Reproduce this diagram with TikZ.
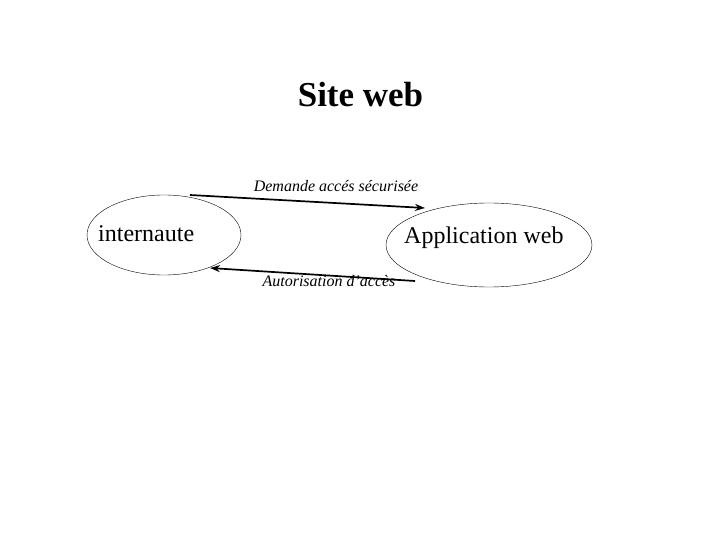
\documentclass[tikz,border=0pt]{standalone}
\usepackage{fontspec}
\setmainfont{Liberation Serif}
\usetikzlibrary{arrows.meta}
\begin{document}
\begin{tikzpicture}[x=1pt,y=-1pt,
  ell/.style={draw,ellipse,thin,inner sep=0pt},
  lbl/.style={font=\fontsize{24}{28}\selectfont,inner sep=0pt,anchor=base west},
  msg/.style={draw,line width=1.7pt,-{Stealth[length=10pt,width=7pt]}},
  msglbl/.style={font=\fontsize{16}{18}\itshape\selectfont,inner sep=0pt}]
\useasboundingbox (0,0) rectangle (720,540);
\node[font=\fontsize{35}{40}\bfseries\selectfont,inner sep=0pt] (title) at (360.5,95) {Site web};
\draw[thin] (164,235) ellipse [x radius=77, y radius=40];
\node[lbl] (int) at (98,241.5) {internaute};
\draw[thin] (489,245) ellipse [x radius=103, y radius=42];
\node[lbl] (app) at (404,243.5) {Application web};
\coordinate (a1s) at (190,195);
\coordinate (a1e) at (425,208);
\coordinate (a2s) at (415,281);
\coordinate (a2e) at (210,268);
\draw[msg] (a1s) -- (a1e);
\draw[msg] (a2s) -- (a2e);
\node[msglbl] (l1) at (336,186) {Demande accés sécurisée};
\node[msglbl] (l2) at (329,281) {Autorisation d'accès};
\end{tikzpicture}
\end{document}
